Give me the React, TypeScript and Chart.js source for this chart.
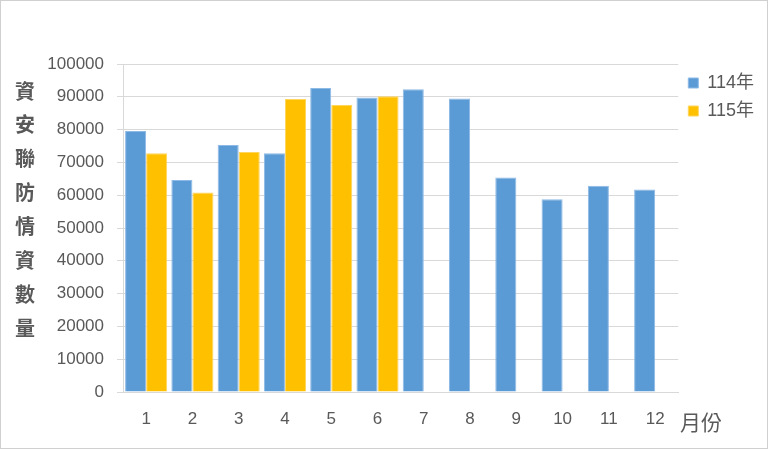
import React, { useEffect, useRef } from "react";
import { Chart, registerables } from "chart.js";

Chart.register(...registerables);

const months = ["1", "2", "3", "4", "5", "6", "7", "8", "9", "10", "11", "12"];
const series114 = [79600, 64600, 75300, 72800, 92700, 89800, 92300, 89500, 65400, 58800, 62900, 61700];
const series115: (number | null)[] = [72800, 60800, 73200, 89300, 87500, 90200, null, null, null, null, null, null];
const yTitleChars = ["資", "安", "聯", "防", "情", "資", "數", "量"];
const xTitle = "月份";

const GRAY = "#595959";
const CJK = '"Noto Sans CJK TC", "Noto Sans", sans-serif';
const LATIN = '"Liberation Sans", Arial, "Noto Sans CJK TC", sans-serif';

const titlesPlugin = {
  id: "axisTitles",
  afterDraw(chart: any) {
    const ctx = chart.ctx;
    ctx.save();
    ctx.fillStyle = GRAY;
    ctx.textAlign = "center";
    ctx.textBaseline = "middle";
    ctx.font = `bold 20px ${CJK}`;
    yTitleChars.forEach((c, i) => {
      ctx.fillText(c, 24, 90 + i * 33.9);
    });
    ctx.font = `21px ${CJK}`;
    ctx.textAlign = "left";
    ctx.fillText(xTitle, 679, 421);
    ctx.restore();
  },
};

export default function App() {
  const ref = useRef<HTMLCanvasElement>(null);
  useEffect(() => {
    if (!ref.current) return;
    const chart = new Chart(ref.current, {
      type: "bar",
      data: {
        labels: months,
        datasets: [
          {
            label: "114年",
            data: series114,
            backgroundColor: "#5B9BD5",
            borderColor: "#8DB9E6",
            borderWidth: 1,
            categoryPercentage: 0.91,
            barPercentage: 1,
          },
          {
            label: "115年",
            data: series115,
            backgroundColor: "#FFC000",
            borderColor: "#FFD55C",
            borderWidth: 1,
            categoryPercentage: 0.91,
            barPercentage: 1,
          },
        ],
      },
      options: {
        animation: false,
        responsive: false,
        maintainAspectRatio: false,
        layout: { padding: { top: 63, right: 3, bottom: 6, left: 0 } },
        plugins: {
          tooltip: { enabled: false },
          legend: {
            position: "right",
            align: "start",
            labels: {
              boxWidth: 10,
              boxHeight: 10,
              padding: 10,
              color: GRAY,
              font: { size: 18, family: LATIN },
            },
          },
        },
        scales: {
          x: {
            grid: { display: false },
            border: { display: true, color: "#d9d9d9" },
            ticks: { color: GRAY, font: { size: 17, family: LATIN }, padding: 9, maxRotation: 0 },
            afterFit: (s: any) => {
              s.height = 50;
            },
          },
          y: {
            min: 0,
            max: 100000,
            ticks: {
              stepSize: 10000,
              color: GRAY,
              font: { size: 17, family: LATIN },
              padding: 13,
              callback: (v: any) => String(v),
            },
            grid: { color: "#d9d9d9", tickLength: 6 },
            border: { display: true, color: "#d9d9d9" },
            afterFit: (s: any) => {
              s.width = 122;
            },
          },
        },
      },
      plugins: [titlesPlugin],
    });
    return () => chart.destroy();
  }, []);
  return (
    <div
      style={{
        position: "absolute",
        left: 0,
        top: 0,
        width: 768,
        height: 449,
        boxSizing: "border-box",
        border: "1px solid #d0d0d0",
        background: "#fff",
      }}
    >
      <canvas ref={ref} width={766} height={447} style={{ display: "block", width: 766, height: 447 }} />
    </div>
  );
}
